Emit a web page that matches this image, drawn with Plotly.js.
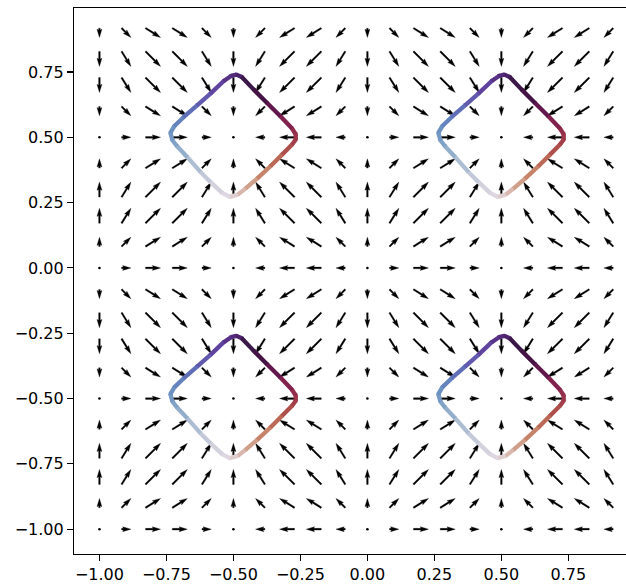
<!DOCTYPE html>
<html>
<head>
<meta charset="utf-8">
<script src="https://cdn.plot.ly/plotly-3.0.1.min.js"></script>
<style>
html,body{margin:0;padding:0;overflow:hidden;background:#fff;}
#chart{width:640px;height:584px;}
</style>
</head>
<body>
<div id="chart"></div>
<script>
// ---------------- data ----------------
const xs = [-1.0,-0.9,-0.8,-0.7,-0.6,-0.5,-0.4,-0.3,-0.2,-0.1,0.0,0.1,0.2,0.3,0.4,0.5,0.6,0.7,0.8,0.9];
const ys = [-1.0,-0.9,-0.8,-0.7,-0.6,-0.5,-0.4,-0.3,-0.2,-0.1,0.0,0.1,0.2,0.3,0.4,0.5,0.6,0.7,0.8,0.9];
// horizontal component read per column, vertical component read per row
const uByColumn = [0,0.59,0.95,0.95,0.59,0,-0.59,-0.95,-0.95,-0.59,0,0.59,0.95,0.95,0.59,0,-0.59,-0.95,-0.95,-0.59];
const vByRow    = [0,0.59,0.95,0.95,0.59,0,-0.59,-0.95,-0.95,-0.59,0,0.59,0.95,0.95,0.59,0,-0.59,-0.95,-0.95,-0.59];

// closed loops around the four sinks
const loopCenterX = [-0.5, 0.5, -0.5, 0.5];
const loopCenterY = [0.5, 0.5, -0.5, -0.5];
const loopDx = [-0.0137,-0.0423,-0.0858,-0.1231,-0.1729,-0.2102,-0.2276,-0.2351,-0.2201,-0.1853,-0.1356,-0.0858,-0.0361,-0.0087,0.0112,0.0311,0.0759,0.1256,0.1754,0.2189,0.2326,0.2326,0.2189,0.1816,0.1381,0.0883,0.0448,0.0162,-0.0137];
const loopDy = [-0.2282,-0.2129,-0.1707,-0.1324,-0.0750,-0.0342,-0.0113,0.0168,0.0436,0.0780,0.1227,0.1673,0.2158,0.2349,0.2400,0.2311,0.1826,0.1316,0.0806,0.0334,0.0117,-0.0087,-0.0279,-0.0662,-0.1108,-0.1580,-0.1963,-0.2193,-0.2282];
const loopT  = [0.00,0.02,0.06,0.10,0.15,0.20,0.22,0.24,0.26,0.30,0.34,0.38,0.42,0.44,0.45,0.47,0.51,0.56,0.61,0.66,0.68,0.70,0.72,0.76,0.81,0.86,0.91,0.95,1.00];

const tickVals = [-1.0,-0.75,-0.5,-0.25,0.0,0.25,0.5,0.75];
const tickText = ["\u22121.00","\u22120.75","\u22120.50","\u22120.25","0.00","0.25","0.50","0.75"];

// ---------------- style / geometry ----------------
const W = 640, H = 584;
const M = {l:74, r:6, t:8, b:30};
const xRange = [-1.095, 0.995], yRange = [-1.095, 0.995];
const sx = (W - M.l - M.r) / (xRange[1] - xRange[0]);   // px per data unit
const sy = (H - M.t - M.b) / (yRange[1] - yRange[0]);

const unitLen = 15.8, shaftW = 1.65;
const headLen = 5 * shaftW, headAxis = 4.5 * shaftW, headW = 3 * shaftW;

const twilight = [
  [0.00,[226,217,226]],[0.05,[208,208,220]],[0.10,[186,196,213]],[0.15,[160,182,206]],
  [0.20,[133,166,199]],[0.25,[107,145,194]],[0.30,[95,120,188]],[0.35,[97,94,177]],
  [0.40,[95,67,159]],[0.45,[82,38,118]],[0.50,[52,20,60]],[0.55,[76,20,72]],
  [0.60,[107,24,78]],[0.65,[138,37,77]],[0.70,[160,57,75]],[0.75,[178,84,76]],
  [0.80,[192,112,90]],[0.85,[202,139,112]],[0.90,[211,168,149]],[0.95,[219,195,190]],
  [1.00,[226,217,226]]
];
function colorAt(t){
  for(let k=0;k<twilight.length-1;k++){
    const a=twilight[k], b=twilight[k+1];
    if(t>=a[0] && t<=b[0]){
      const f=(t-a[0])/(b[0]-a[0]);
      const c=a[1].map((v,i)=>Math.round(v+(b[1][i]-v)*f));
      return 'rgb('+c.join(',')+')';
    }
  }
  return 'rgb('+twilight[twilight.length-1][1].join(',')+')';
}
const twilightScale = twilight.map(s=>[s[0],'rgb('+s[1].join(',')+')']);

// ---------------- quiver arrows (pivot middle) ----------------
const arrX = [], arrY = [], dotX = [], dotY = [];
for(let j=0;j<ys.length;j++){
  for(let i=0;i<xs.length;i++){
    const u=uByColumn[i], v=vByRow[j];
    const mag=Math.hypot(u,v);
    const L=mag*unitLen;
    if(L < shaftW){ dotX.push(xs[i]); dotY.push(ys[j]); continue; }
    const cx=u/mag, cy=v/mag;
    const pts=[[0,-shaftW/2],[L-headAxis,-shaftW/2],[L-headLen,-headW/2],[L,0],
               [L-headLen,headW/2],[L-headAxis,shaftW/2],[0,shaftW/2],[0,-shaftW/2]];
    for(const p of pts){
      const a=p[0]-L/2, q=p[1];
      const ox=a*cx - q*cy, oy=a*cy + q*cx;
      arrX.push(xs[i]+ox/sx); arrY.push(ys[j]+oy/sy);
    }
    arrX.push(null); arrY.push(null);
  }
}

const traces = [];
traces.push({
  type:'scatter', mode:'lines', x:arrX, y:arrY, fill:'toself',
  fillcolor:'#000', line:{color:'#000', width:0.3}, hoverinfo:'skip', showlegend:false
});
traces.push({
  type:'scatter', mode:'markers', x:dotX, y:dotY,
  marker:{color:'#000', size:2.6, line:{width:0}}, hoverinfo:'skip', showlegend:false
});

// ---------------- loops ----------------
const lineW = 4.3;
for(let c=0;c<loopCenterX.length;c++){
  const px = loopDx.map(d=>loopCenterX[c]+d);
  const py = loopDy.map(d=>loopCenterY[c]+d);
  traces.push({
    type:'scatter', mode:'markers', x:px, y:py,
    marker:{color:loopT, colorscale:twilightScale, cmin:0, cmax:1, size:lineW, line:{width:0}},
    hoverinfo:'skip', showlegend:false
  });
  for(let k=0;k<px.length-1;k++){
    traces.push({
      type:'scatter', mode:'lines', x:[px[k],px[k+1]], y:[py[k],py[k+1]],
      line:{color:colorAt((loopT[k]+loopT[k+1])/2), width:lineW},
      hoverinfo:'skip', showlegend:false
    });
  }
}

const axisCommon = {
  showgrid:false, zeroline:false, showline:true, mirror:true,
  linecolor:'#000', linewidth:1.1, ticks:'outside', ticklen:6, tickwidth:1.1, tickcolor:'#000',
  tickvals:tickVals, ticktext:tickText,
  tickfont:{family:'DejaVu Sans', size:16, color:'#000'}
};
const layout = {
  width:W, height:H, margin:M,
  paper_bgcolor:'#fff', plot_bgcolor:'#fff', showlegend:false, hovermode:false,
  xaxis:Object.assign({range:xRange}, axisCommon),
  yaxis:Object.assign({range:yRange}, axisCommon)
};
Plotly.newPlot('chart', traces, layout, {staticPlot:true, displayModeBar:false});
</script>
</body>
</html>
